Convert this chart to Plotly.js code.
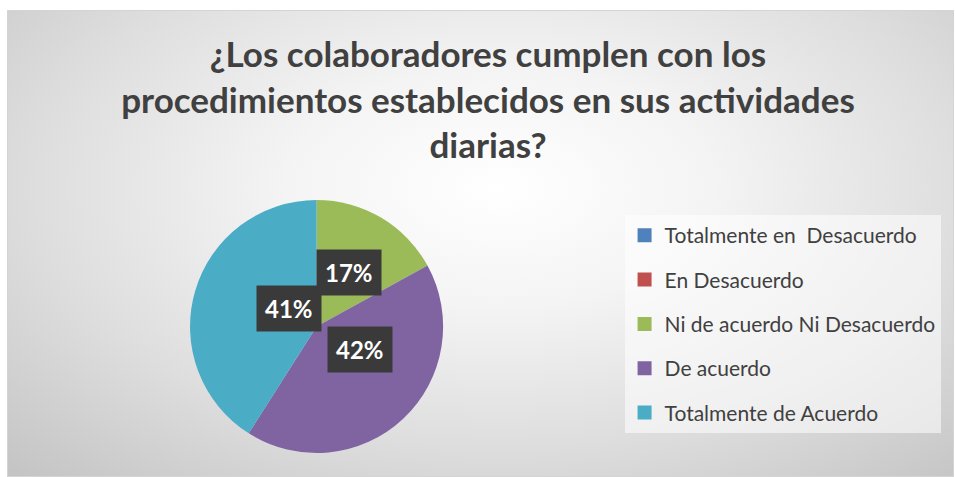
<!DOCTYPE html>
<html>
<head>
<meta charset="utf-8">
<script src="https://cdn.plot.ly/plotly-3.0.1.min.js"></script>
<style>
  html, body { margin: 0; padding: 0; background: #ffffff; }
  #frame {
    position: absolute; left: 7px; top: 10px; width: 947px; height: 467px;
    border: 1px solid #d4d4d4; box-sizing: border-box;
    background: radial-gradient(ellipse 75% 85% at 52% 38%, #ffffff 0%, #f4f4f4 30%, #dedede 65%, #c4c4c4 100%);
  }
  #plot { position: absolute; left: 0; top: 0; width: 955px; height: 477px; }
</style>
</head>
<body>
<div id="frame"></div>
<div id="plot"></div>
<script>
// categories and their share of answers (percent)
let labels = ["Totalmente en  Desacuerdo", "En Desacuerdo", "Ni de acuerdo Ni Desacuerdo", "De acuerdo", "Totalmente de Acuerdo"];
let values = [0, 0, 17, 42, 41];
let colors = ["#4f81bd", "#c0504d", "#9bbb59", "#8064a2", "#4bacc6"];

let W = 955, H = 477;
// pie placement (paper fractions)
let pieX = [0.199, 0.464];
let pieY = [0.050, 0.581];

let pieTrace = {
    type: "pie",
    labels: labels,
    values: values,
    marker: { colors: colors, line: { width: 0 } },
    sort: false,
    direction: "clockwise",
    rotation: 0,
    textinfo: "none",
    hoverinfo: "label+percent",
    showlegend: false,
    domain: { x: pieX, y: pieY }
};

// dummy traces only to build the legend with wider row spacing
let legendTraces = labels.map((lab, i) => ({
    type: "scatter",
    x: [null],
    y: [null],
    mode: "markers",
    name: lab,
    legendgroup: "g" + i,
    marker: { symbol: "square", size: 14, color: colors[i] },
    hoverinfo: "skip"
}));

// data labels in the middle of each slice, like the spreadsheet chart
let total = values.reduce((a, b) => a + b, 0);
let cxPx = (pieX[0] + pieX[1]) / 2 * W;
let cyPx = (1 - (pieY[0] + pieY[1]) / 2) * H;
let rPx = Math.min((pieX[1] - pieX[0]) * W, (pieY[1] - pieY[0]) * H) / 2;
let annotations = [];
let acc = 0;
values.forEach((v, i) => {
    if (v <= 0) return;
    let mid = (acc + v / 2) / total * 2 * Math.PI;
    acc += v;
    let px = cxPx + 0.5 * rPx * Math.sin(mid);
    let py = cyPx - 0.5 * rPx * Math.cos(mid);
    annotations.push({
        xref: "paper", yref: "paper",
        x: px / W, y: 1 - py / H,
        text: "<b>" + Math.round(v / total * 100) + "%</b>",
        showarrow: false,
        font: { family: "Lato, 'Open Sans', sans-serif", size: 24, color: "#ffffff" },
        bgcolor: "#3a3a3a",
        borderpad: 8
    });
});

let layout = {
    width: W,
    height: H,
    margin: { l: 0, r: 0, t: 0, b: 0 },
    paper_bgcolor: "rgba(0,0,0,0)",
    plot_bgcolor: "rgba(0,0,0,0)",
    title: {
        text: "<b>¿Los colaboradores cumplen con los<br>procedimientos establecidos en sus actividades<br>diarias?</b>",
        font: { family: "Lato, 'Open Sans', sans-serif", size: 35, color: "#404040" },
        x: 0.511,
        xanchor: "center",
        y: 1 - 67 / 477,
        yanchor: "top"
    },
    xaxis: { visible: false },
    yaxis: { visible: false },
    showlegend: true,
    legend: {
        x: 0.654,
        y: 0.549,
        xanchor: "left",
        yanchor: "top",
        bgcolor: "rgba(255,255,255,0.55)",
        borderwidth: 0,
        tracegroupgap: 14,
        font: { family: "Lato, 'Open Sans', sans-serif", size: 21, color: "#404040" }
    },
    annotations: annotations
};

Plotly.newPlot("plot", [pieTrace].concat(legendTraces), layout, { displayModeBar: false });
</script>
</body>
</html>
